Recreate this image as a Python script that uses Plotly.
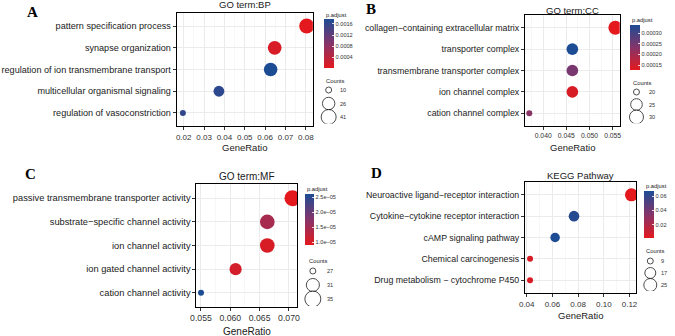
import plotly.graph_objects as go

W, H = 675, 336

# ---------------- data ----------------
bp_terms = ["pattern specification process", "synapse organization",
            "regulation of ion transmembrane transport",
            "multicellular organismal signaling", "regulation of vasoconstriction"]
bp_ratio = [0.0804, 0.0647, 0.0627, 0.0373, 0.0196]
bp_count = [41, 33, 32, 19, 10]
bp_padj = [0.00001, 0.00012, 0.00178, 0.00165, 0.00160]
bp_breaks = [10, 26, 41]
bp_cticks = [0.0004, 0.0008, 0.0012, 0.0016]
bp_ctext = ["0.0004", "0.0008", "0.0012", "0.0016"]

cc_terms = ["collagen\u2212containing extracellular matrix", "transporter complex",
            "transmembrane transporter complex", "ion channel complex",
            "cation channel complex"]
cc_ratio = [0.0556, 0.0463, 0.0463, 0.0463, 0.0370]
cc_count = [30, 25, 25, 25, 20]
cc_padj = [0.000127, 0.000338, 0.000245, 0.000140, 0.000228]
cc_breaks = [20, 25, 30]
cc_cticks = [0.00015, 0.00020, 0.00025, 0.00030]
cc_ctext = ["0.00015", "0.00020", "0.00025", "0.00030"]

mf_terms = ["passive transmembrane transporter activity",
            "substrate\u2212specific channel activity", "ion channel activity",
            "ion gated channel activity", "cation channel activity"]
mf_ratio = [0.0706, 0.0663, 0.0663, 0.0609, 0.0550]
mf_count = [35, 33, 33, 30, 27]
mf_padj = [0.90e-05, 1.45e-05, 1.00e-05, 1.05e-05, 2.60e-05]
mf_breaks = [27, 31, 35]
mf_cticks = [1.0e-05, 1.5e-05, 2.0e-05, 2.5e-05]
mf_ctext = ["1.0e\u221205", "1.5e\u221205", "2.0e\u221205", "2.5e\u221205"]

kegg_terms = ["Neuroactive ligand\u2212receptor interaction",
              "Cytokine\u2212cytokine receptor interaction",
              "cAMP signaling pathway", "Chemical carcinogenesis",
              "Drug metabolism \u2212 cytochrome P450"]
kegg_ratio = [0.1215, 0.0768, 0.0621, 0.0426, 0.0426]
kegg_count = [25, 16, 13, 9, 9]
kegg_padj = [0.002, 0.064, 0.067, 0.006, 0.006]
kegg_breaks = [9, 17, 25]
kegg_cticks = [0.02, 0.04, 0.06]
kegg_ctext = ["0.02", "0.04", "0.06"]

COLORSCALE = [[0.0, "#E3191D"], [0.5, "#86346A"], [1.0, "#1C4C94"]]
FONT = "Liberation Sans, Arial, sans-serif"

panels = [
    dict(letter="A", letter_pos=(27, 12), title="GO term:BP", title_y=5, xlab_y=147,
         terms=bp_terms, ratio=bp_ratio, count=bp_count, padj=bp_padj,
         breaks=bp_breaks, cticks=bp_cticks, ctext=bp_ctext,
         dtick=0.01, fmt=".2f", box=(173, 13, 311, 126), dmin=6, dmax=15,
         tickfont=8, catfont=9.1, titlefont=9.5, xlabfont=9.5,
         cbar=(322, 19, 332, 68), ptitle=(322, 15), ctitle=(322, 81),
         leg_x=327, leg_lab=336, leg_y=(90, 117)),
    dict(letter="B", letter_pos=(370, 9), title="GO term:CC", title_y=10, xlab_y=147,
         terms=cc_terms, ratio=cc_ratio, count=cc_count, padj=cc_padj,
         breaks=cc_breaks, cticks=cc_cticks, ctext=cc_ctext,
         dtick=0.005, fmt=".3f", box=(526, 15, 622, 126), dmin=6, dmax=14,
         tickfont=6.8, catfont=8.8, titlefont=9.5, xlabfont=9.5,
         cbar=(632, 25, 642, 70), ptitle=(632, 20), ctitle=(633, 83),
         leg_x=639, leg_lab=650, leg_y=(92, 117)),
    dict(letter="C", letter_pos=(25, 174), title="GO term:MF", title_y=176, xlab_y=331,
         terms=mf_terms, ratio=mf_ratio, count=mf_count, padj=mf_padj,
         breaks=mf_breaks, cticks=mf_cticks, ctext=mf_ctext,
         dtick=0.005, fmt=".3f", box=(193, 184, 295, 307), dmin=6, dmax=16,
         tickfont=8.7, catfont=9.3, titlefont=10, xlabfont=10,
         cbar=(303, 194, 312, 245), ptitle=(303, 189), ctitle=(305, 261),
         leg_x=311, leg_lab=323, leg_y=(271, 299)),
    dict(letter="D", letter_pos=(375, 173), title="KEGG Pathway", title_y=175, xlab_y=315,
         terms=kegg_terms, ratio=kegg_ratio, count=kegg_count, padj=kegg_padj,
         breaks=kegg_breaks, cticks=kegg_cticks, ctext=kegg_ctext,
         dtick=0.02, fmt=".2f", box=(526, 182, 639, 293), dmin=6, dmax=13,
         tickfont=8, catfont=8.8, titlefont=9.5, xlabfont=9.5,
         cbar=(647, 191, 657, 238), ptitle=(647, 186), ctitle=(647, 251),
         leg_x=653, leg_lab=662, leg_y=(261, 285)),
]


def px(x):
    return x / W


def py(y):
    return 1 - y / H


def diam(c, lo, hi, dmin, dmax):
    # ggplot-like area scaling
    return dmin + ((c - lo) / (hi - lo)) ** 0.5 * (dmax - dmin)


fig = go.Figure()
annotations = []
layout = dict(
    width=W, height=H, margin=dict(l=0, r=0, t=0, b=0),
    paper_bgcolor="white", plot_bgcolor="white", showlegend=False,
    font=dict(family=FONT, color="#222"), hovermode=False,
)

for i, p in enumerate(panels):
    n = i + 1
    sfx = "" if n == 1 else str(n)
    lsfx = str(n + 4)
    ca = "coloraxis" + sfx
    x0, y0, x1, y1 = p["box"]
    lo, hi = min(p["breaks"]), max(p["breaks"])
    terms_bt = list(reversed(p["terms"]))

    sizes = [diam(c, lo, hi, p["dmin"], p["dmax"]) for c in p["count"]]
    fig.add_trace(go.Scatter(
        x=p["ratio"], y=p["terms"], mode="markers",
        xaxis="x" + sfx, yaxis="y" + sfx,
        marker=dict(size=sizes, sizemode="diameter", color=p["padj"],
                    coloraxis=ca, line=dict(width=0), opacity=1),
        hoverinfo="skip"))

    rmin, rmax = min(p["ratio"]), max(p["ratio"])
    pad = (rmax - rmin) * 0.05
    layout["xaxis" + sfx] = dict(
        domain=[px(x0), px(x1)], anchor="y" + sfx,
        range=[rmin - pad, rmax + pad], dtick=p["dtick"], tick0=0,
        tickformat=p["fmt"], showgrid=True, gridcolor="#EBEBEB", gridwidth=1,
        minor=dict(showgrid=True, gridcolor="#F2F2F2", gridwidth=0.6,
                   dtick=p["dtick"] / 2, tick0=0),
        zeroline=False, showline=True, linecolor="black", linewidth=1, mirror=True,
        ticks="outside", ticklen=3, tickcolor="#333", tickwidth=1,
        tickfont=dict(size=p["tickfont"], color="#333", family=FONT))
    layout["yaxis" + sfx] = dict(
        domain=[py(y1), py(y0)], anchor="x" + sfx,
        type="category", categoryorder="array", categoryarray=terms_bt,
        range=[-0.6, len(terms_bt) - 0.4],
        showgrid=True, gridcolor="#EBEBEB", gridwidth=1, zeroline=False,
        showline=True, linecolor="black", linewidth=1, mirror=True,
        ticks="outside", ticklen=3, tickcolor="#333", tickwidth=1,
        tickfont=dict(size=p["catfont"], color="#1a1a1a", family=FONT))

    cx0, cy0, cx1, cy1 = p["cbar"]
    layout[ca] = dict(
        colorscale=COLORSCALE, cmin=min(p["padj"]), cmax=max(p["padj"]),
        colorbar=dict(
            x=px(cx0), xanchor="left", y=py(cy0), yanchor="top",
            lenmode="pixels", len=cy1 - cy0, thickness=cx1 - cx0,
            thicknessmode="pixels", xpad=0, ypad=0, outlinewidth=0,
            tickmode="array", tickvals=p["cticks"], ticktext=p["ctext"],
            ticks="inside", ticklen=2, tickcolor="white", tickwidth=0.8,
            tickfont=dict(size=5.6, color="#333", family=FONT)))

    # size legend on a hidden axis
    ly0, ly1 = p["leg_y"]
    step = (ly1 - ly0) / 2
    layout["xaxis" + lsfx] = dict(
        domain=[px(p["leg_x"] - 10), px(p["leg_x"] + 10)], anchor="y" + lsfx,
        range=[-10, 10], visible=False, fixedrange=True)
    layout["yaxis" + lsfx] = dict(
        domain=[py(ly1 + step / 2), py(ly0 - step / 2)], anchor="x" + lsfx,
        range=[len(p["breaks"]) - 0.5, -0.5], visible=False, fixedrange=True)
    bsizes = [diam(b, lo, hi, p["dmin"], p["dmax"]) for b in p["breaks"]]
    fig.add_trace(go.Scatter(
        x=[0] * len(p["breaks"]), y=list(range(len(p["breaks"]))),
        mode="markers", xaxis="x" + lsfx, yaxis="y" + lsfx,
        marker=dict(size=bsizes, sizemode="diameter", color="white",
                    line=dict(color="black", width=1)),
        hoverinfo="skip"))
    for k, b in enumerate(p["breaks"]):
        annotations.append(dict(
            x=px(p["leg_lab"]), y=py(ly0 + k * step), xref="paper", yref="paper",
            text=str(b), showarrow=False, xanchor="left", yanchor="middle",
            font=dict(size=5.6, color="#333", family=FONT)))

    annotations += [
        dict(x=px((x0 + x1) / 2), y=py(p["title_y"]), xref="paper", yref="paper",
             text=p["title"], showarrow=False, xanchor="center", yanchor="middle",
             font=dict(size=p["titlefont"], color="#1a1a1a", family=FONT)),
        dict(x=px((x0 + x1) / 2), y=py(p["xlab_y"]), xref="paper", yref="paper",
             text="GeneRatio", showarrow=False, xanchor="center", yanchor="middle",
             font=dict(size=p["xlabfont"], color="#1a1a1a", family=FONT)),
        dict(x=px(p["letter_pos"][0]), y=py(p["letter_pos"][1]), xref="paper",
             yref="paper", text="<b>" + p["letter"] + "</b>", showarrow=False,
             xanchor="center", yanchor="middle",
             font=dict(size=15, color="black",
                       family="Liberation Serif, Times New Roman, serif")),
        dict(x=px(p["ptitle"][0]), y=py(p["ptitle"][1]), xref="paper", yref="paper",
             text="p.adjust", showarrow=False, xanchor="left", yanchor="middle",
             font=dict(size=5.8, color="#1a1a1a", family=FONT)),
        dict(x=px(p["ctitle"][0]), y=py(p["ctitle"][1]), xref="paper", yref="paper",
             text="Counts", showarrow=False, xanchor="left", yanchor="middle",
             font=dict(size=5.8, color="#1a1a1a", family=FONT)),
    ]

layout["annotations"] = annotations
fig.update_layout(**layout)
fig.write_html("out.html", config={"displayModeBar": False, "staticPlot": True},
               post_script="document.body.style.margin='0';")
